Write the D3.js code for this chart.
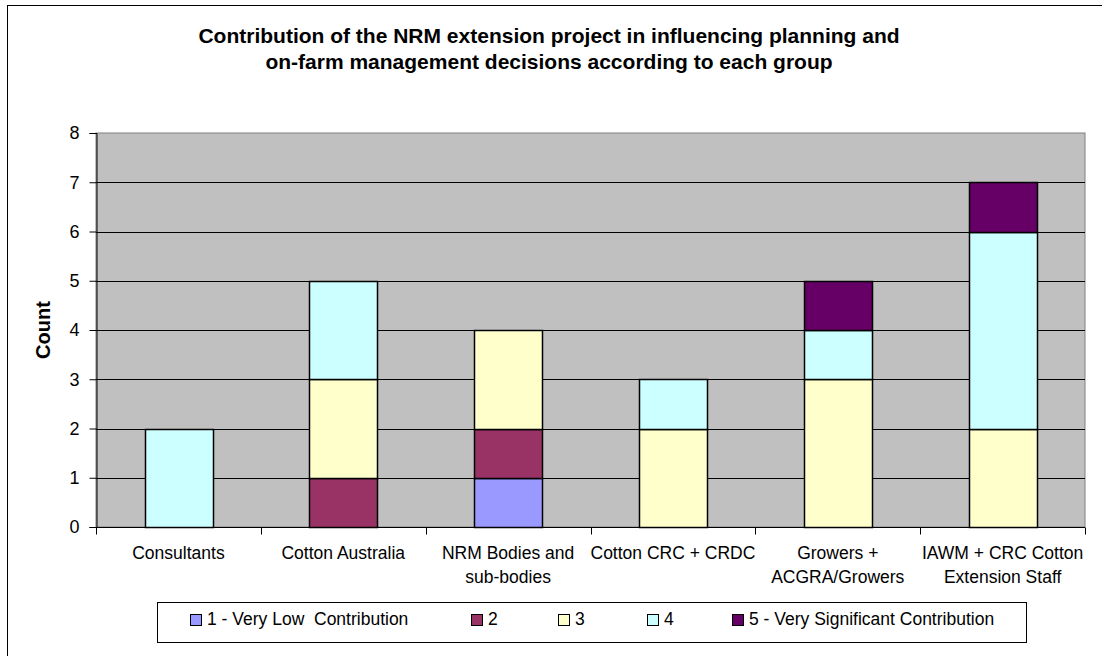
<!DOCTYPE html>
<html>
<head>
<meta charset="utf-8">
<script src="https://cdn.jsdelivr.net/npm/d3@7"></script>
<style>
  body { margin: 0; background: #fff; }
  text { font-family: Arial, "Liberation Sans", sans-serif; fill: #000; }
</style>
</head>
<body>
<div id="chart"></div>
<script>
// data
var groups = [
    ["Consultants"],
    ["Cotton Australia"],
    ["NRM Bodies and", "sub-bodies"],
    ["Cotton CRC + CRDC"],
    ["Growers +", "ACGRA/Growers"],
    ["IAWM + CRC Cotton", "Extension Staff"]
];
var levels = ["1 - Very Low  Contribution", "2", "3", "4", "5 - Very Significant Contribution"];
var level1 = [0, 0, 1, 0, 0, 0];
var level2 = [0, 1, 1, 0, 0, 0];
var level3 = [0, 2, 2, 2, 3, 2];
var level4 = [2, 2, 0, 1, 1, 4];
var level5 = [0, 0, 0, 0, 1, 1];
var yTicks = [0, 1, 2, 3, 4, 5, 6, 7, 8];
var colors = ["#9999FF", "#993366", "#FFFFCC", "#CCFFFF", "#660066"];

var W = 1102, H = 656;
var plot = {left: 96, right: 1085, top: 133, bottom: 527};

var svg = d3.select("#chart").append("svg")
    .attr("width", W)
    .attr("height", H);

// outer chart frame (runs off the right and bottom)
svg.append("rect")
    .attr("x", 7.5).attr("y", 5.5)
    .attr("width", 1110).attr("height", 670)
    .attr("fill", "#fff")
    .attr("stroke", "#000");

var x = d3.scaleBand()
    .domain(d3.range(groups.length))
    .range([plot.left, plot.right])
    .padding(0);
var barW = x.bandwidth() * 0.41;

var y = d3.scaleLinear().domain([0, 8]).range([plot.bottom, plot.top]);

// plot area
svg.append("rect")
    .attr("x", plot.left).attr("y", plot.top)
    .attr("width", plot.right - plot.left)
    .attr("height", plot.bottom - plot.top)
    .attr("fill", "#C0C0C0")
    .attr("stroke", "#808080");

// gridlines
svg.append("g")
    .selectAll("line")
    .data(yTicks.filter(function(d) { return d > 0 && d < 8; }))
    .enter().append("line")
    .attr("x1", plot.left).attr("x2", plot.right)
    .attr("y1", function(d) { return Math.round(y(d)) + 0.5; })
    .attr("y2", function(d) { return Math.round(y(d)) + 0.5; })
    .attr("stroke", "#000");

// stacked bars
var table = groups.map(function(g, i) {
    return {i: i, v: [level1[i], level2[i], level3[i], level4[i], level5[i]]};
});
var stack = d3.stack()
    .keys(d3.range(levels.length))
    .value(function(d, k) { return d.v[k]; });
var series = stack(table);

svg.append("g")
    .selectAll("g")
    .data(series)
    .enter().append("g")
    .attr("fill", function(d) { return colors[d.key]; })
    .selectAll("rect")
    .data(function(d) { return d.filter(function(s) { return s[1] > s[0]; }); })
    .enter().append("rect")
    .attr("x", function(d) { return Math.round(x(d.data.i) + (x.bandwidth() - barW) / 2) + 0.5; })
    .attr("width", Math.round(barW))
    .attr("y", function(d) { return Math.round(y(d[1])) + 0.5; })
    .attr("height", function(d) { return Math.round(y(d[0])) - Math.round(y(d[1])); })
    .attr("stroke", "#000")
    .attr("stroke-width", 1.5);

// y axis
var yAxis = svg.append("g")
    .attr("transform", "translate(" + (plot.left + 0.5) + ",0)")
    .call(d3.axisLeft(y).tickValues(yTicks).tickSize(7).tickPadding(10));
yAxis.select(".domain").attr("stroke", "#000");
yAxis.selectAll("text").attr("font-size", "18px").attr("font-family", null);

// x axis
var xAxis = svg.append("g")
    .attr("transform", "translate(0," + (plot.bottom + 0.5) + ")");
xAxis.append("line")
    .attr("x1", plot.left).attr("x2", plot.right)
    .attr("stroke", "#000");
xAxis.selectAll(".tk")
    .data(d3.range(groups.length + 1))
    .enter().append("line")
    .attr("class", "tk")
    .attr("x1", function(d) { return Math.round(plot.left + d * x.step()) + 0.5; })
    .attr("x2", function(d) { return Math.round(plot.left + d * x.step()) + 0.5; })
    .attr("y1", 0).attr("y2", 7)
    .attr("stroke", "#000");
xAxis.selectAll(".lbl")
    .data(groups)
    .enter().append("text")
    .attr("class", "lbl")
    .attr("text-anchor", "middle")
    .attr("font-size", "17.5px")
    .attr("transform", function(d, i) { return "translate(" + (x(i) + x.bandwidth() / 2) + ",0)"; })
    .selectAll("tspan")
    .data(function(d) { return d; })
    .enter().append("tspan")
    .attr("x", 0)
    .attr("y", function(d, j) { return 31 + j * 24; })
    .text(function(d) { return d; });

// y label
svg.append("text")
    .attr("transform", "translate(50," + ((plot.top + plot.bottom) / 2) + ") rotate(-90)")
    .attr("text-anchor", "middle")
    .attr("font-size", "20px")
    .attr("font-weight", "bold")
    .text("Count");

// title
var title = svg.append("text")
    .attr("text-anchor", "middle")
    .attr("font-size", "21px")
    .attr("font-weight", "bold");
title.append("tspan").attr("x", 549).attr("y", 43)
    .text("Contribution of the NRM extension project in influencing planning and");
title.append("tspan").attr("x", 549).attr("y", 69)
    .text("on-farm management decisions according to each group");

// legend
var legendX = [190, 471, 558, 647, 732];
svg.append("rect")
    .attr("x", 157.5).attr("y", 602.5)
    .attr("width", 869).attr("height", 40)
    .attr("fill", "#fff")
    .attr("stroke", "#000");
var legend = svg.selectAll(".legend")
    .data(levels)
    .enter().append("g")
    .attr("class", "legend")
    .attr("transform", function(d, i) { return "translate(" + legendX[i] + ",625)"; });
legend.append("rect")
    .attr("x", 0.5).attr("y", -10.5)
    .attr("width", 11).attr("height", 11)
    .attr("fill", function(d, i) { return colors[i]; })
    .attr("stroke", "#000");
legend.append("text")
    .attr("x", 17)
    .attr("font-size", "17.5px")
    .style("white-space", "pre")
    .text(function(d) { return d; });
</script>
</body>
</html>
